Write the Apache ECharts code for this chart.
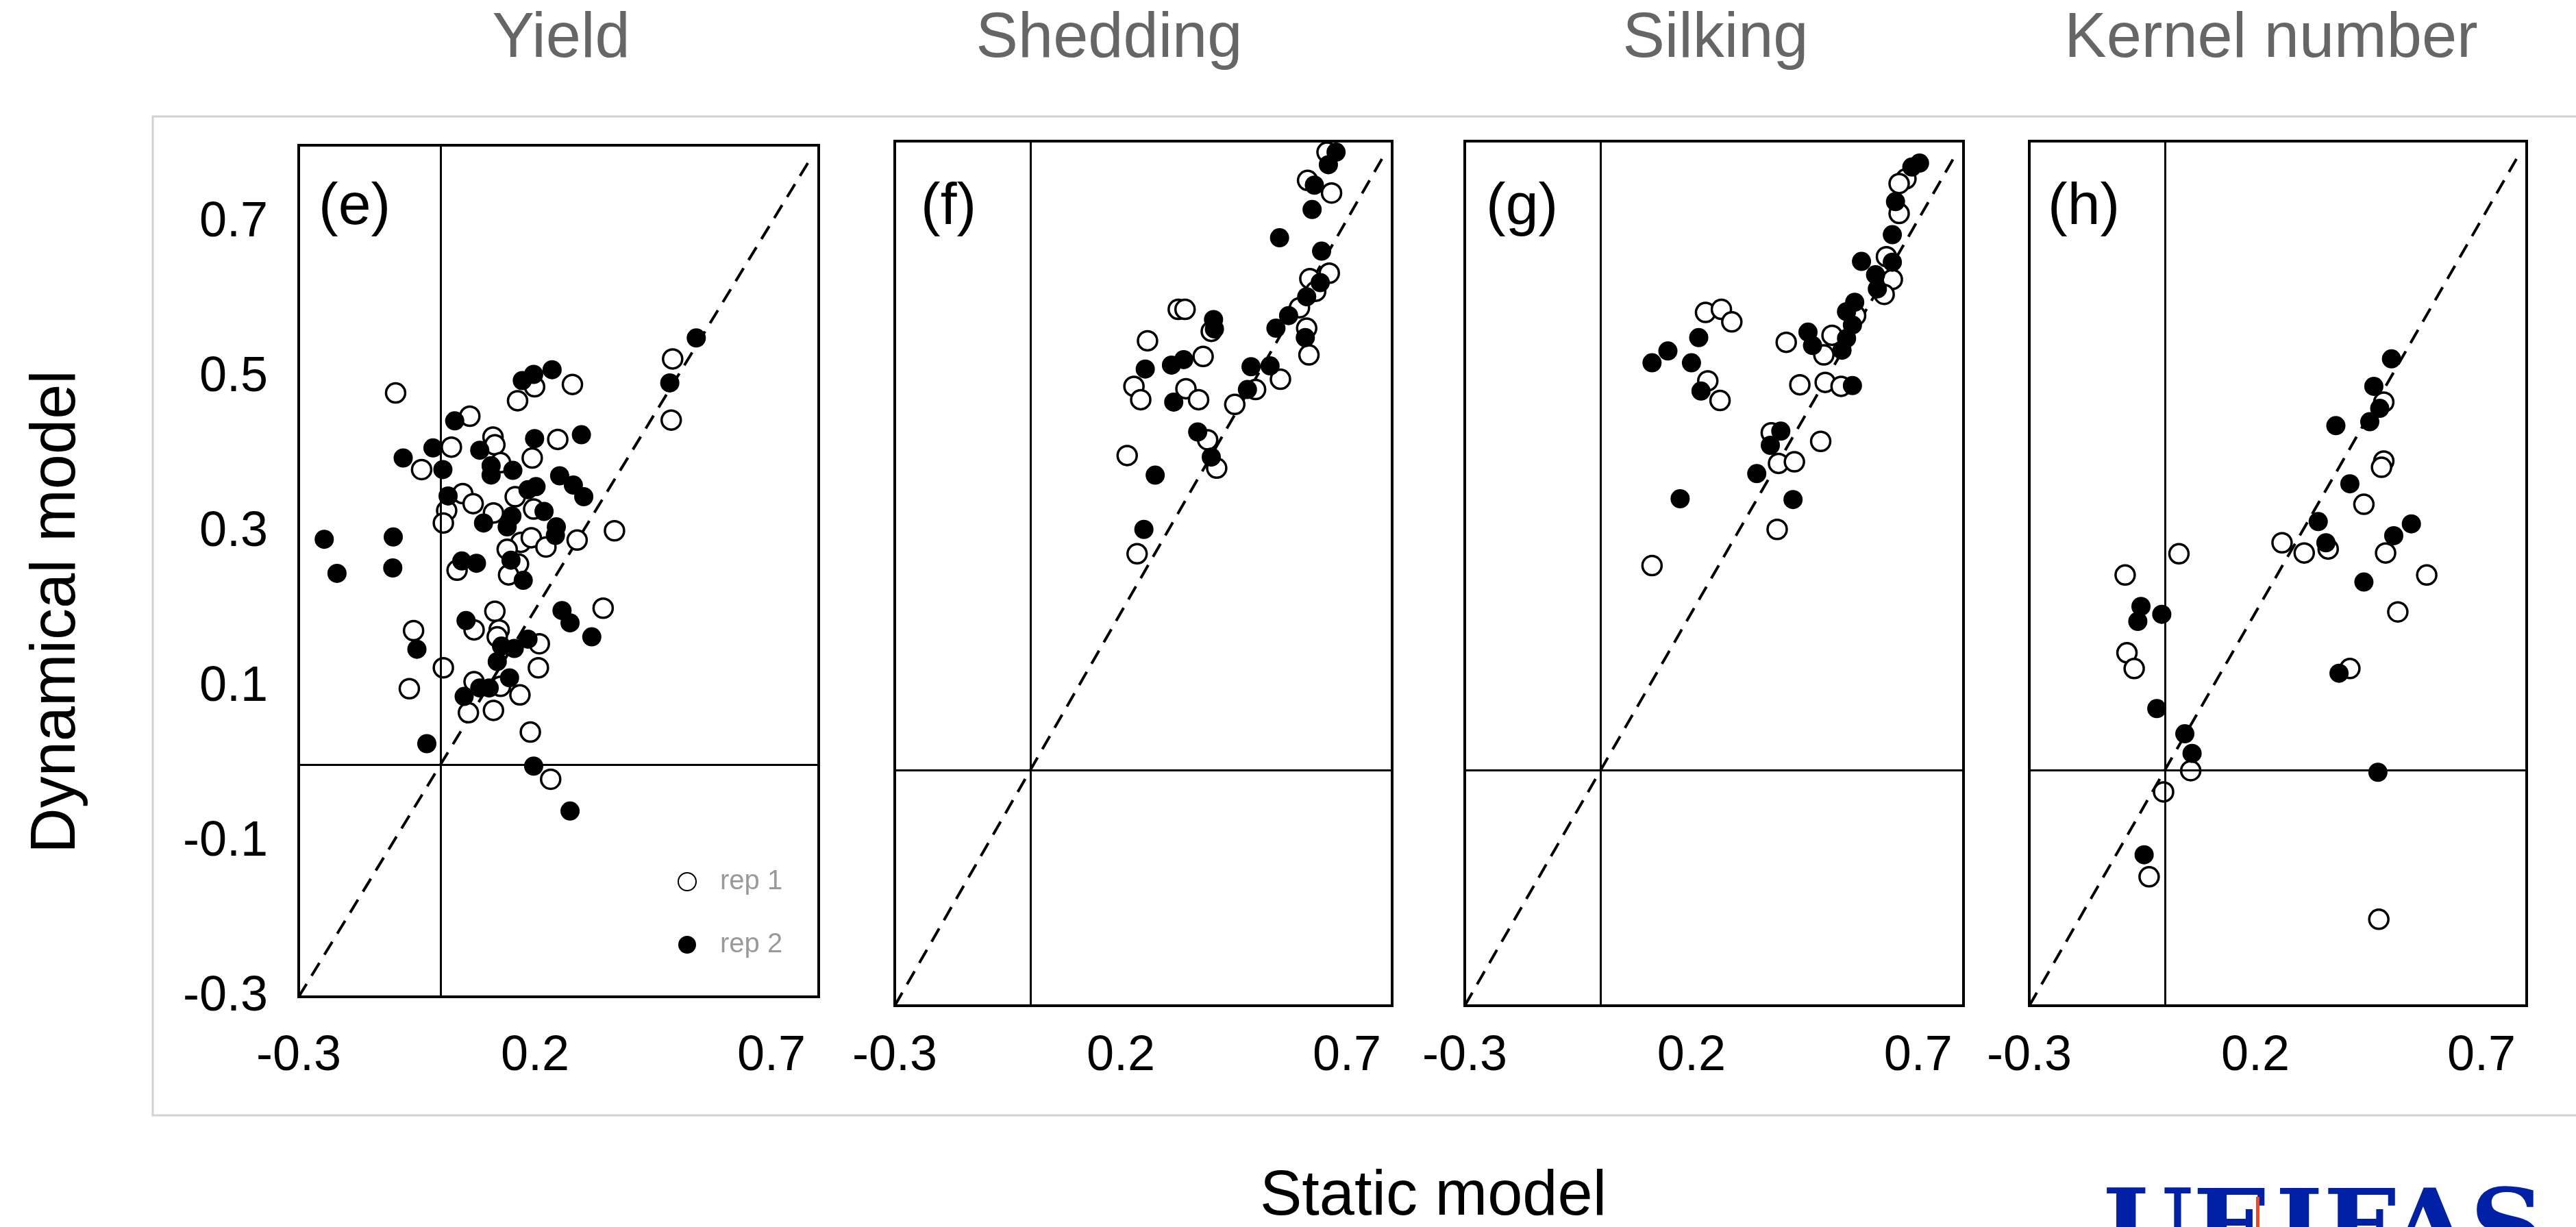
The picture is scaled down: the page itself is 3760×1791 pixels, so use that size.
<!DOCTYPE html>
<html><head><meta charset="utf-8">
<script src="https://cdn.jsdelivr.net/npm/echarts@6/dist/echarts.min.js"></script>
<style>html,body{margin:0;padding:0;background:#fff}#c{width:3760px;height:1791px}</style>
</head><body><div id="c"></div>
<script>
// ---------- data ----------
const xTickLabels = [-0.3, 0.2, 0.7];
const yTickLabels = [-0.3, -0.1, 0.1, 0.3, 0.5, 0.7];
const axisRange = [-0.3, 0.8];
const traitNames = ['Yield', 'Shedding', 'Silking', 'Kernel number'];
const panelTags = ['(e)', '(f)', '(g)', '(h)'];
const repNames = ['rep 1', 'rep 2'];
const identityLine = [[-0.3, -0.3], [0.78, 0.78]];
const xAxisName = 'Static model';
const yAxisName = 'Dynamical model';

const yieldRep1 = [[-0.095,0.480],[0.199,0.488],[0.279,0.491],[0.163,0.470],[0.062,0.450],[0.023,0.410],[-0.040,0.381],[0.111,0.423],[0.115,0.413],[0.248,0.420],[0.194,0.396],[0.127,0.390],[0.047,0.350],[0.069,0.337],[0.013,0.328],[0.006,0.312],[0.112,0.325],[0.158,0.346],[0.197,0.330],[0.289,0.290],[0.368,0.302],[0.170,0.287],[0.192,0.293],[0.223,0.281],[0.141,0.278],[0.165,0.259],[0.035,0.251],[0.144,0.245],[0.115,0.198],[0.071,0.174],[-0.057,0.173],[0.124,0.174],[0.120,0.165],[0.209,0.156],[0.344,0.202],[0.006,0.125],[-0.066,0.098],[0.207,0.125],[0.071,0.107],[0.127,0.101],[0.168,0.090],[0.059,0.067],[0.112,0.070],[0.190,0.042],[0.233,-0.019],[0.491,0.524],[0.488,0.445]];
const yieldRep2 = [[0.236,0.510],[0.197,0.504],[0.173,0.496],[0.030,0.444],[-0.016,0.409],[-0.079,0.396],[0.005,0.381],[0.083,0.406],[0.199,0.421],[0.298,0.426],[0.107,0.386],[0.107,0.374],[0.153,0.380],[0.252,0.373],[0.281,0.361],[0.303,0.346],[0.016,0.347],[0.091,0.312],[0.185,0.355],[0.202,0.359],[0.219,0.327],[0.151,0.321],[0.141,0.307],[0.245,0.307],[0.243,0.296],[0.149,0.264],[-0.246,0.291],[-0.100,0.294],[-0.219,0.247],[-0.101,0.254],[0.045,0.263],[0.076,0.260],[0.175,0.238],[0.054,0.186],[-0.050,0.149],[0.129,0.153],[0.156,0.150],[0.185,0.162],[0.120,0.133],[0.257,0.199],[0.274,0.183],[0.320,0.165],[0.083,0.099],[0.103,0.099],[0.050,0.088],[0.146,0.112],[-0.029,0.027],[0.197,-0.002],[0.274,-0.060],[0.541,0.551],[0.485,0.493]];
const sheddingRep1 = [[0.656,0.786],[0.613,0.750],[0.666,0.734],[0.661,0.632],[0.618,0.625],[0.631,0.609],[0.595,0.588],[0.611,0.562],[0.616,0.528],[0.327,0.586],[0.342,0.586],[0.400,0.558],[0.259,0.546],[0.382,0.526],[0.229,0.488],[0.244,0.471],[0.344,0.485],[0.372,0.471],[0.553,0.497],[0.498,0.484],[0.452,0.465],[0.392,0.420],[0.412,0.384],[0.214,0.400],[0.236,0.275]];
const sheddingRep2 = [[0.676,0.786],[0.659,0.770],[0.628,0.744],[0.623,0.713],[0.551,0.677],[0.644,0.660],[0.641,0.620],[0.611,0.602],[0.571,0.578],[0.543,0.562],[0.608,0.550],[0.405,0.573],[0.407,0.561],[0.339,0.522],[0.312,0.515],[0.254,0.510],[0.317,0.468],[0.488,0.513],[0.530,0.514],[0.480,0.484],[0.370,0.430],[0.400,0.398],[0.276,0.375],[0.251,0.306]];
const silkingRep1 = [[0.673,0.752],[0.658,0.746],[0.658,0.708],[0.630,0.653],[0.643,0.624],[0.625,0.605],[0.562,0.578],[0.510,0.553],[0.492,0.528],[0.409,0.544],[0.231,0.582],[0.266,0.586],[0.289,0.570],[0.236,0.495],[0.263,0.470],[0.439,0.490],[0.495,0.493],[0.530,0.488],[0.376,0.429],[0.392,0.390],[0.427,0.392],[0.485,0.418],[0.389,0.306],[0.113,0.260]];
const silkingRep2 = [[0.703,0.772],[0.686,0.767],[0.650,0.723],[0.643,0.681],[0.643,0.646],[0.575,0.647],[0.606,0.630],[0.610,0.612],[0.560,0.595],[0.542,0.583],[0.555,0.566],[0.457,0.557],[0.542,0.549],[0.467,0.540],[0.532,0.534],[0.555,0.489],[0.216,0.550],[0.148,0.533],[0.113,0.518],[0.200,0.518],[0.221,0.482],[0.397,0.431],[0.374,0.413],[0.344,0.377],[0.175,0.345],[0.424,0.344]];
const kernelRep1 = [[0.484,0.468],[0.484,0.393],[0.479,0.385],[0.440,0.338],[0.259,0.289],[0.308,0.276],[0.361,0.281],[0.488,0.276],[0.579,0.248],[0.515,0.201],[0.409,0.129],[0.473,-0.190],[0.031,0.275],[-0.088,0.248],[-0.084,0.149],[-0.068,0.129],[0.057,-0.001],[-0.003,-0.028],[-0.035,-0.136]];
const kernelRep2 = [[0.501,0.523],[0.462,0.488],[0.475,0.460],[0.453,0.443],[0.378,0.438],[0.409,0.364],[0.339,0.316],[0.545,0.313],[0.506,0.298],[0.356,0.289],[0.440,0.239],[0.385,0.123],[0.471,-0.003],[-0.053,0.208],[-0.060,0.189],[-0.007,0.198],[-0.018,0.078],[0.044,0.046],[0.060,0.021],[-0.046,-0.108]];

const rep1Sets = [yieldRep1, sheddingRep1, silkingRep1, kernelRep1];
const rep2Sets = [yieldRep2, sheddingRep2, silkingRep2, kernelRep2];

// ---------- layout ----------
const FONT = '"Liberation Sans", Arial, sans-serif';
const panels = [
  {left: 436, top: 212, width: 759, height: 1243, xMargin: 51, titleX: 819, tagX: 465, showY: true},
  {left: 1306, top: 206, width: 726, height: 1262, xMargin: 38, titleX: 1619, tagX: 1344, showY: false},
  {left: 2138, top: 206, width: 728, height: 1262, xMargin: 38, titleX: 2504, tagX: 2169, showY: false},
  {left: 2962, top: 206, width: 726, height: 1262, xMargin: 38, titleX: 3315, tagX: 2989, showY: false}
];

const grid = [], xAxis = [], yAxis = [], series = [], graphic = [];

graphic.push({type: 'rect', z: -10, shape: {x: 223, y: 170, width: 3600, height: 1458},
  style: {fill: '#fff', stroke: '#d2d2d2', lineWidth: 3}});

panels.forEach((p, i) => {
  grid.push({left: p.left, top: p.top, width: p.width, height: p.height, show: true,
    borderColor: '#000', borderWidth: 4, backgroundColor: '#fff'});
  xAxis.push({type: 'value', gridIndex: i, min: axisRange[0], max: axisRange[1],
    axisLine: {show: false}, axisTick: {show: false}, splitLine: {show: false},
    axisLabel: {customValues: xTickLabels, margin: p.xMargin, fontSize: 72, color: '#000',
      fontFamily: FONT, formatter: v => v.toFixed(1)}});
  yAxis.push({type: 'value', gridIndex: i, min: axisRange[0], max: axisRange[1],
    axisLine: {show: false}, axisTick: {show: false}, splitLine: {show: false},
    axisLabel: {show: p.showY, customValues: yTickLabels, margin: 45, fontSize: 72, color: '#000',
      fontFamily: FONT, formatter: v => v.toFixed(1)}});
  series.push({type: 'line', name: 'identity', xAxisIndex: i, yAxisIndex: i, data: identityLine,
    symbol: 'none', silent: true, z: 1,
    lineStyle: {color: '#000', width: 4, type: [22, 14]},
    markLine: {silent: true, symbol: ['none', 'none'], label: {show: false},
      lineStyle: {color: '#000', width: 3, type: 'solid'},
      data: [{xAxis: 0}, {yAxis: 0}]}});
  series.push({type: 'scatter', name: repNames[0], xAxisIndex: i, yAxisIndex: i, data: rep1Sets[i],
    symbol: 'circle', symbolSize: 28, z: 3,
    itemStyle: {color: '#fff', borderColor: '#000', borderWidth: 3.5, opacity: 1}});
  series.push({type: 'scatter', name: repNames[1], xAxisIndex: i, yAxisIndex: i, data: rep2Sets[i],
    symbol: 'circle', symbolSize: 28, z: 4,
    itemStyle: {color: '#000', opacity: 1}});
  graphic.push({type: 'text', x: p.titleX, y: 58,
    style: {text: traitNames[i], font: '92px ' + FONT, fill: '#666', align: 'center', verticalAlign: 'middle'}});
  graphic.push({type: 'text', x: p.tagX, y: 303, z: 10,
    style: {text: panelTags[i], font: '86px ' + FONT, fill: '#000', align: 'left', verticalAlign: 'middle'}});
});

graphic.push({type: 'text', x: 2092, y: 1748,
  style: {text: xAxisName, font: '92px ' + FONT, fill: '#000', align: 'center', verticalAlign: 'middle'}});
graphic.push({type: 'text', x: 84, y: 893, rotation: Math.PI / 2,
  style: {text: yAxisName, font: '92px ' + FONT, fill: '#000', align: 'center', verticalAlign: 'middle'}});
// UF|IFAS logo (cropped at bottom edge)
graphic.push({type: 'text', x: 3070, y: 1729,
  style: {text: 'UF', font: 'bold 150px "DejaVu Serif", serif', fill: '#0021A5', align: 'left', verticalAlign: 'top'}});
graphic.push({type: 'rect', shape: {x: 3293, y: 1747, width: 5, height: 60}, style: {fill: '#FA4616'}});
graphic.push({type: 'text', x: 3321, y: 1729,
  style: {text: 'IFAS', font: 'bold 150px "DejaVu Serif", serif', fill: '#0021A5', align: 'left', verticalAlign: 'top'}});

const option = {
  animation: false,
  backgroundColor: '#fff',
  grid, xAxis, yAxis, series, graphic,
  legend: {data: repNames, orient: 'vertical', left: 984, top: 1262, itemWidth: 26, itemHeight: 26,
    itemGap: 52, icon: 'circle', selectedMode: false,
    textStyle: {fontSize: 40, color: '#9a9a9a', fontFamily: FONT, padding: [0, 0, 0, 30]}}
};
const chart = echarts.init(document.getElementById('c'), null, {renderer: 'canvas'});
chart.setOption(option);
</script></body></html>
